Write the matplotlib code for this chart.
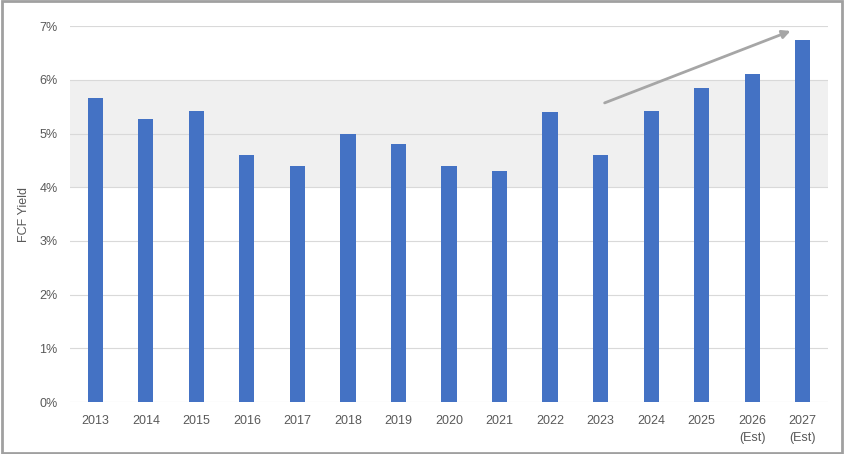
import matplotlib
matplotlib.use("Agg")
import matplotlib.pyplot as plt
from matplotlib.patches import Rectangle
from matplotlib.ticker import FuncFormatter

# FCF yield by year (percent)
years = ["2013", "2014", "2015", "2016", "2017", "2018", "2019", "2020",
         "2021", "2022", "2023", "2024", "2025", "2026\n(Est)", "2027\n(Est)"]
fcf_yield = [5.66, 5.27, 5.42, 4.60, 4.40, 5.00, 4.80, 4.40,
             4.30, 5.40, 4.60, 5.42, 5.85, 6.11, 6.74]
yticks = [0, 1, 2, 3, 4, 5, 6, 7]
band = (4, 6)
arrow_start = (10.08, 5.57)
arrow_end = (13.76, 6.91)

plt.rcParams['font.family'] = ['Liberation Sans', 'DejaVu Sans']

fig = plt.figure(figsize=(8.44, 4.54), dpi=100)
ax = fig.add_axes([0.083, 0.1145, 0.898, 0.828])

x = list(range(len(years)))
ax.axhspan(band[0], band[1], color="#f0f0f0", zorder=0, lw=0)
ax.bar(x, fcf_yield, width=0.3, color="#4472C4", zorder=3)

ax.set_xlim(-0.5, len(years) - 0.5)
ax.set_ylim(0, 7)
ax.set_yticks(yticks)
ax.yaxis.set_major_formatter(FuncFormatter(lambda v, p: "%d%%" % v))
ax.set_xticks(x)
ax.set_xticklabels(years, linespacing=1.6)
ax.grid(axis="y", color="#d9d9d9", lw=0.8, zorder=1)
for s in ax.spines.values():
    s.set_visible(False)
ax.tick_params(length=0, colors="#595959", labelsize=9, pad=9)
ax.set_ylabel("FCF Yield", color="#595959", fontsize=9, labelpad=7)

ax.annotate("", xy=arrow_end, xytext=arrow_start,
            arrowprops=dict(arrowstyle="-|>", color="#a6a6a6", lw=2,
                            mutation_scale=12, shrinkA=0, shrinkB=0),
            zorder=4)

fig.patches.append(Rectangle((0.002, 0.003), 0.996, 0.994, transform=fig.transFigure,
                             fill=False, edgecolor="#a0a0a0", lw=2))

fig.savefig("out.png", dpi=100)
